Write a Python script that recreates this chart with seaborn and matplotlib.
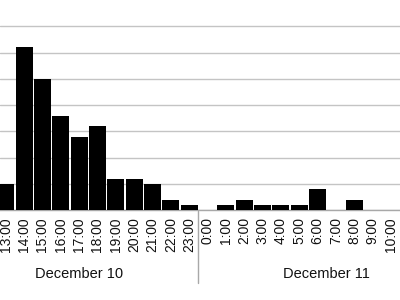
import matplotlib
matplotlib.use("Agg")
import matplotlib.pyplot as plt
import matplotlib.transforms as mtransforms
from matplotlib.lines import Line2D
import seaborn as sns
import pandas as pd

hours = ["13:00", "14:00", "15:00", "16:00", "17:00", "18:00", "19:00", "20:00",
         "21:00", "22:00", "23:00", "0:00", "1:00", "2:00", "3:00", "4:00",
         "5:00", "6:00", "7:00", "8:00", "9:00", "10:00"]
counts = [5, 31, 25, 18, 14, 16, 6, 6, 5, 2, 1, 0, 1, 2, 1, 1, 1, 4, 0, 2, 0, 0]
day_labels = ["December 10", "December 11"]
day_label_pos = [4.0, 17.5]
yticks = [0, 5, 10, 15, 20, 25, 30, 35]

sns.set_style("white")
plt.rcParams["font.family"] = ["Liberation Sans", "DejaVu Sans"]

df = pd.DataFrame({"hour": hours, "count": counts})

fig = plt.figure(figsize=(4, 3), dpi=100)
ax = fig.add_axes([0, 0.299, 1, 0.701])

sns.barplot(data=df, x="hour", y="count", order=hours, color="black",
            saturation=1, width=0.93, linewidth=0, ax=ax, zorder=3)

ax.set_xlim(-0.316, 21.5)
ax.set_ylim(0, 40)
ax.set_yticks(yticks)
ax.set_yticklabels([])
ax.tick_params(axis="y", length=0)
ax.yaxis.grid(True, color="#c4c4c4", linewidth=1.0, zorder=0)
ax.set_axisbelow(True)
ax.set_xlabel("")
ax.set_ylabel("")
for s in ["left", "right", "top"]:
    ax.spines[s].set_visible(False)
ax.spines["bottom"].set_color("#a8a8a8")
ax.spines["bottom"].set_linewidth(1.0)

ax.tick_params(axis="x", length=0, pad=5, labelsize=10, labelcolor="#111111")
plt.setp(ax.get_xticklabels(), rotation=90, va="top", ha="center")

trans = mtransforms.blended_transform_factory(ax.transData, fig.transFigure)
for lab, pos in zip(day_labels, day_label_pos):
    ax.text(pos, 1 - 274.5 / 300, lab, transform=trans, ha="center", va="center",
            fontsize=10.5, color="#111111", clip_on=False)

sep_x = 10.5
fig.add_artist(Line2D([sep_x, sep_x], [1 - 211 / 300, 1 - 283 / 300],
                      transform=trans, color="#a8a8a8", linewidth=1.0))

fig.savefig("out.png", dpi=100)
